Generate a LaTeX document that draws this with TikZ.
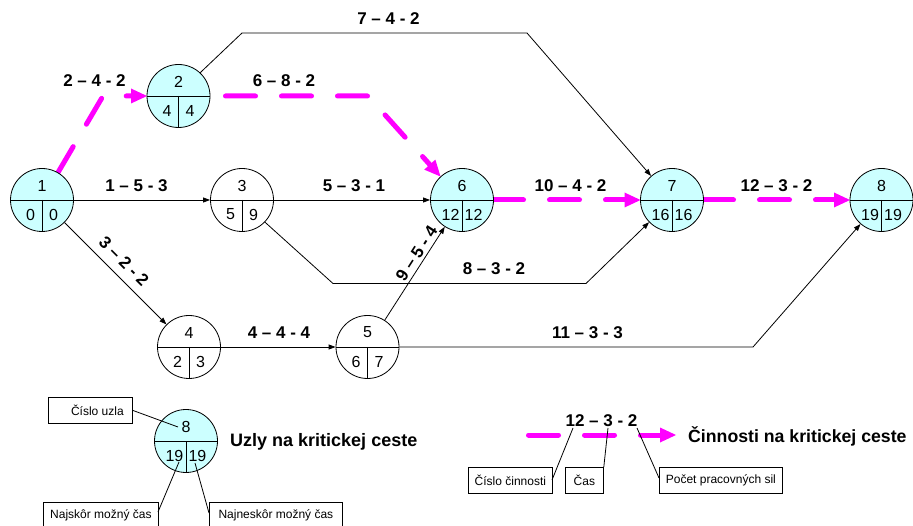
\documentclass[tikz,border=0pt]{standalone}
\usepackage{fontspec}
\setmainfont{Liberation Sans}
\usetikzlibrary{arrows.meta}
\definecolor{cyanf}{HTML}{CCFFFF}
\definecolor{mag}{HTML}{FF00FF}
\tikzset{
  ev/.style={circle, draw, line width=0.8pt, minimum size=63pt, inner sep=0pt},
  evc/.style={ev, fill=cyanf},
  num/.style={font=\fontsize{16}{18}\selectfont, inner sep=0pt},
  lab/.style={font=\bfseries\fontsize{17}{20}\selectfont, inner sep=0pt},
  title/.style={font=\bfseries\fontsize{18}{21}\selectfont, inner sep=0pt, anchor=west},
  sbox/.style={draw, line width=0.8pt, font=\fontsize{12}{14}\selectfont, inner sep=0pt, minimum height=26pt},
  thin/.style={line width=0.8pt, -{Triangle[length=7pt,width=5pt]}},
  crit/.style={draw=mag, line width=5pt, line cap=round, dash pattern=on 30pt off 26pt,
    -{Triangle[length=16pt,width=15pt,fill=mag,line width=0pt]}},
  lead/.style={line width=0.8pt},
}
\newcommand{\evnode}[7]{%
  \node[#7] (#1) at (#2,#3) {};
  \draw[line width=0.8pt] (#1.west) -- (#1.east) (#1.center) -- (#1.south);
  \node[num] (#1t) at ([yshift=14.5pt]#1.center) {#4};
  \node[num] (#1l) at ([xshift=-11.5pt,yshift=-14.5pt]#1.center) {#5};
  \node[num] (#1r) at ([xshift=11.5pt,yshift=-14.5pt]#1.center) {#6};
}
\begin{document}
\begin{tikzpicture}[x=1pt,y=-1pt]
\useasboundingbox (0,0) rectangle (913,526);

% critical edges first (under nodes)
\draw[crit] (42,200) ++(16,-27.5) coordinate (s12) -- (103,96) -- (147,96) coordinate (e12);
\draw[crit, dash phase=40.5pt] (210,96) -- (368,96) -- (440.5,176.5);
\draw[crit] (493.5,200) -- (640.5,200);
\draw[crit] (703.5,200) -- (850,200);

% nodes
\evnode{n1}{42}{200}{1}{0}{0}{evc}
\evnode{n2}{178.5}{96}{2}{4}{4}{evc}
\evnode{n3}{242}{200}{3}{5}{9}{ev}
\evnode{n4}{189}{347}{4}{2}{3}{ev}
\evnode{n5}{367.5}{347}{5}{6}{7}{ev}
\evnode{n6}{462}{200}{6}{12}{12}{evc}
\evnode{n7}{672}{200}{7}{16}{16}{evc}
\evnode{n8}{881.5}{200}{8}{19}{19}{evc}

% thin edges
\draw[thin] (n1.east) -- (n3.west);
\draw[thin] (n3.east) -- (n6.west);
\draw[thin] (n4.east) -- (n5.west);
\draw[thin] (n1) -- (n4);
\draw[thin] (n5) -- (n6);
\draw[thin] (n2.47) -- (242,33) -- (527,33) -- (n7);
\draw[thin] (n3.-44) -- (333,283.5) -- (586,283.5) -- (n7);
\draw[thin] (n5.east) -- (753,347) -- (n8);

% edge labels
\node[lab] (l1) at (94.5,80.5) {2 – 4 - 2};
\node[lab] (l2) at (136.5,185.5) {1 – 5 - 3};
\node[lab] (l3) at (124,261) [rotate=-45] {3 – 2 - 2};
\node[lab] (l6) at (284,80.5) {6 – 8 - 2};
\node[lab] (l7) at (388.5,18.5) {7 – 4 - 2};
\node[lab] (l5) at (354,185.5) {5 – 3 - 1};
\node[lab] (l4) at (279,332.5) {4 – 4 - 4};
\node[lab] (l9) at (416.5,253.5) [rotate=57.3] {9 – 5 - 4};
\node[lab] (l8) at (494,269) {8 – 3 - 2};
\node[lab] (l10) at (570.5,185.5) {10 – 4 - 2};
\node[lab] (l11) at (587.5,332.5) {11 – 3 - 3};
\node[lab] (l12) at (776.5,185.5) {12 – 3 - 2};

% legend: node
\evnode{lg}{186}{441}{8}{19}{19}{evc}
\node[title] (lgt) at (230,442) {Uzly na kritickej ceste};
\node[sbox, minimum width=84pt, anchor=north west] (bcu) at (48,397) {\hspace*{14pt}Číslo uzla};
\node[sbox, minimum width=115pt, anchor=north west] (bns) at (43,502) {Najskôr možný čas};
\node[sbox, minimum width=133pt, anchor=north west] (bnn) at (209,502) {Najneskôr možný čas};
\draw[lead] (bcu.east) -- (178,427);
\draw[lead] (158,512) -- (179,462);
\draw[lead] (209,513) -- (195,463);

% legend: activity
\draw[crit] (528.5,435) -- (676,435);
\node[lab] (lgl) at (601.5,421) {12 – 3 - 2};
\node[title, font=\bfseries\fontsize{17.7}{21}\selectfont] (lgt2) at (688,436) {Činnosti na kritickej ceste};
\node[sbox, minimum width=84pt, anchor=north west] (bcc) at (468,467) {Číslo činnosti};
\node[sbox, minimum width=38pt, anchor=north west] (bc) at (565,467) {Čas};
\node[sbox, minimum width=123pt, anchor=north west] (bpp) at (659,467) {Počet pracovných sil};
\draw[lead] (552,480) -- (573,428);
\draw[lead] (bc.north east) -- (608,428);
\draw[lead] (659,478) -- (637,428);
\end{tikzpicture}
\end{document}
